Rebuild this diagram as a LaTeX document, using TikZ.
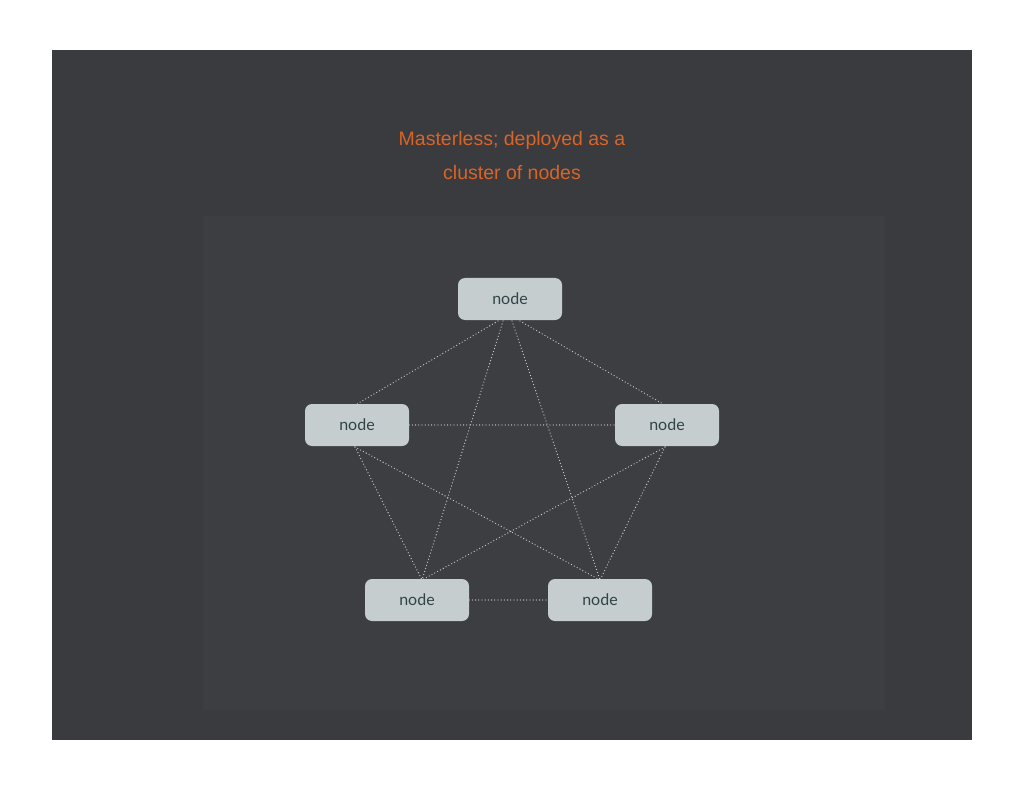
\documentclass[tikz,border=0pt]{standalone}
\usepackage{fontspec}
\setmainfont{Liberation Sans}
\newfontfamily\nodefont{Lato}
\begin{document}
\begin{tikzpicture}[x=1pt,y=-1pt,
  box/.style={draw=none,fill=boxc,rounded corners=7pt,minimum width=104pt,minimum height=42pt,font=\nodefont\fontsize{16}{18}\selectfont,text=txtc},
  link/.style={draw=linkc,line width=1.3pt,dash pattern=on 0pt off 3.2pt,line cap=round}]
\definecolor{boxc}{HTML}{C5CDCF}
\definecolor{txtc}{HTML}{2F4446}
\definecolor{linkc}{HTML}{C8CCCE}
\definecolor{bgc}{HTML}{3A3B3F}
\definecolor{inc}{HTML}{3D3E42}
\definecolor{titc}{HTML}{DA6326}
\useasboundingbox (0,0) rectangle (1024,791);
\fill[white] (0,0) rectangle (1024,791);
\fill[bgc] (52,50) rectangle (972,740);
\fill[inc] (203,216) rectangle (885,710);
\node[text=titc,font=\fontsize{19.5}{34}\selectfont,align=center] (title) at (512,156) {Masterless; deployed as a\\cluster of nodes};
\node[box] (t) at (510,299) {node};
\node[box] (l) at (357,425) {node};
\node[box] (r) at (667,425) {node};
\node[box] (bl) at (417,600) {node};
\node[box] (br) at (600,600) {node};
\coordinate (ts1) at (498,321); \coordinate (ts2) at (520,321);
\coordinate (ts3) at (503,321); \coordinate (ts4) at (512,321);
\coordinate (ln) at (357,404); \coordinate (rn) at (663,404);
\coordinate (ls) at (355,447); \coordinate (rs) at (665,447);
\coordinate (bln) at (422,580); \coordinate (brn) at (600,580);
\draw[link] (ts1) -- (ln);
\draw[link] (ts2) -- (rn);
\draw[link] (ts3) -- (bln);
\draw[link] (ts4) -- (brn);
\draw[link] (l.east) -- (r.west);
\draw[link] (ls) -- (bln);
\draw[link] (ls) -- (brn);
\draw[link] (rs) -- (bln);
\draw[link] (rs) -- (brn);
\draw[link] (bl.east) -- (br.west);
\end{tikzpicture}
\end{document}
